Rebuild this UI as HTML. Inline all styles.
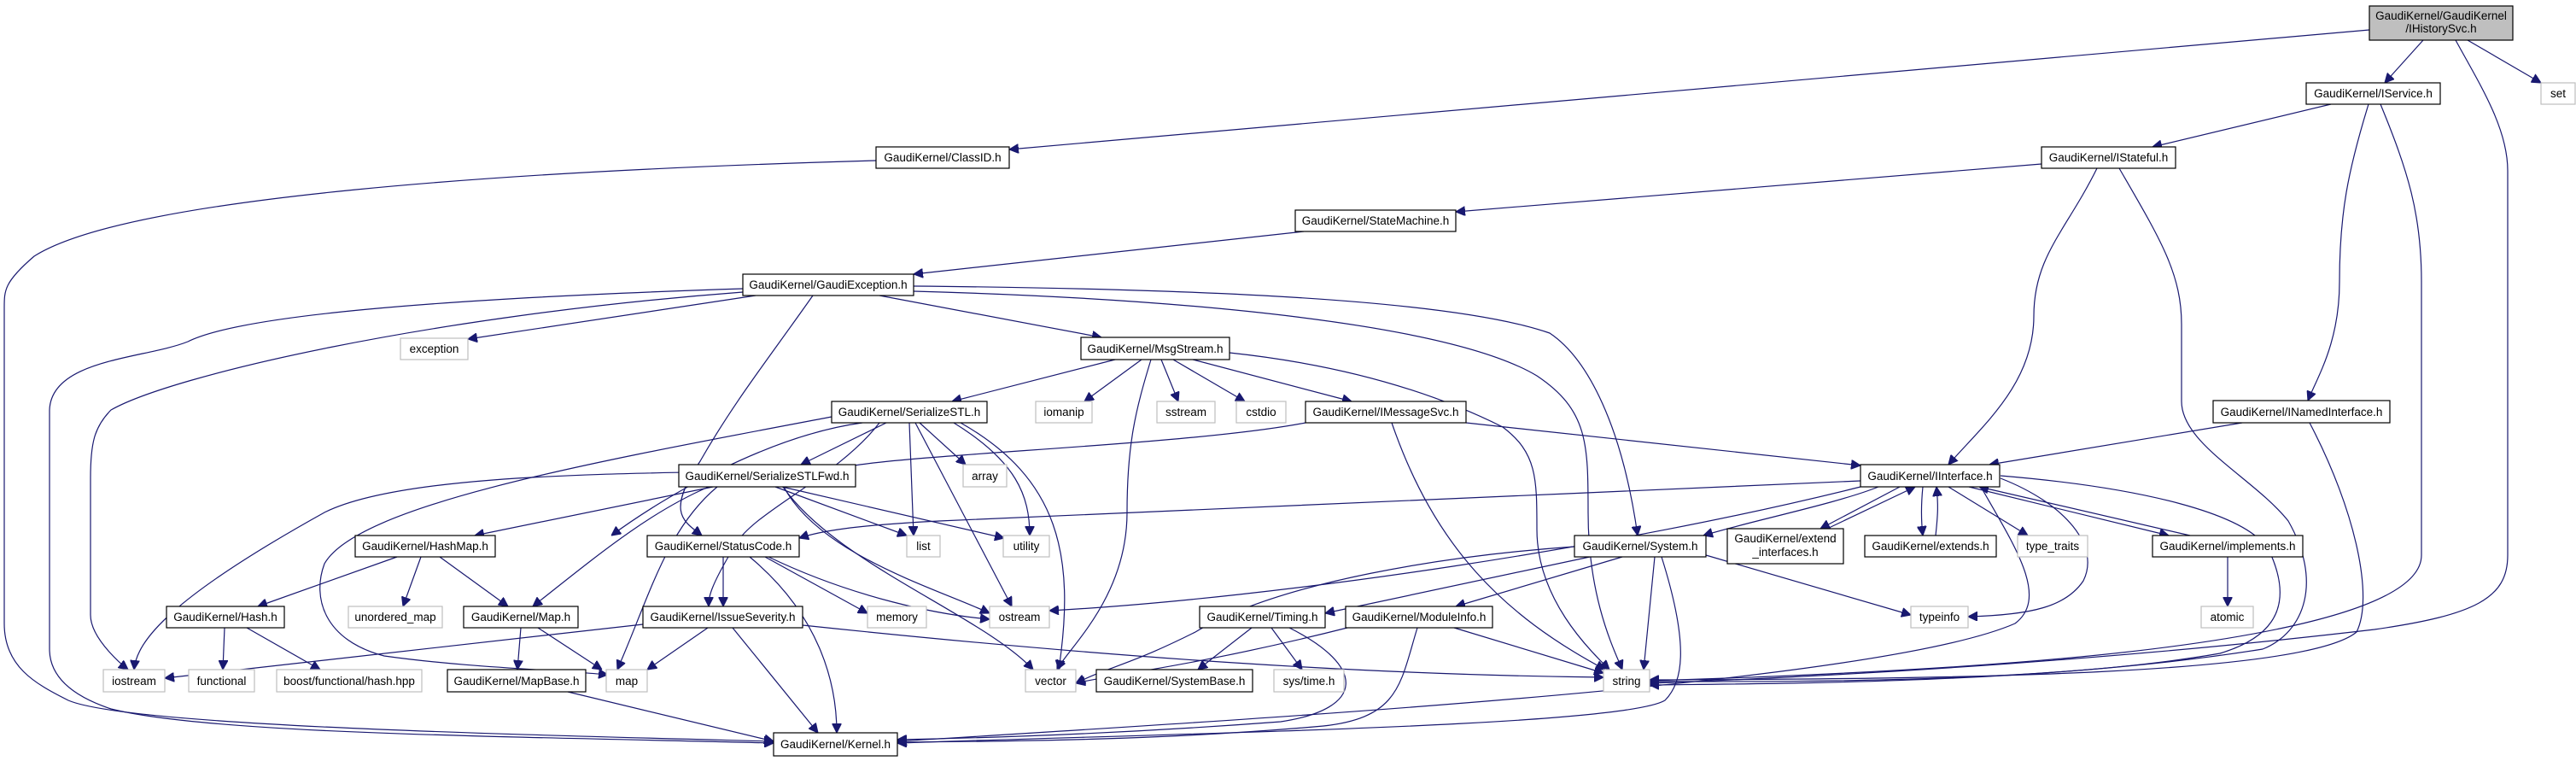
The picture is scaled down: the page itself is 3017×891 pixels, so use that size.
<!DOCTYPE html>
<html><head><meta charset="utf-8"><style>
html,body{margin:0;padding:0;background:#fff;}
svg{display:block;}
text{font-family:"Liberation Sans",sans-serif;font-size:13.5px;fill:#000;text-anchor:middle;}
.n{fill:#fff;stroke:#000;stroke-width:1.2;}
.g{fill:#fff;stroke:#bfbfbf;stroke-width:1.2;}
.e{fill:none;stroke:#191970;stroke-width:1.2;}
</style></head><body>
<svg width="3017" height="891" viewBox="0 0 3017 891" xmlns="http://www.w3.org/2000/svg">
<defs><marker id="a" viewBox="0 0 10 10" refX="10" refY="5" markerWidth="11" markerHeight="11" markerUnits="userSpaceOnUse" orient="auto"><path d="M0,0 L10,5 L0,10 z" fill="#191970" stroke="#191970"/></marker></defs>
<g class="e" marker-end="url(#a)">
<path d="M2775,35 L1182,175"/>
<path d="M2838,47 L2793,97"/>
<path d="M2890,47 L2976,97"/>
<path d="M2876,47 C2905,100 2937,150 2937,200 L2937,650 C2937,700 2900,720 2781,737 C2500,770 2200,790 1932,800"/>
<path d="M1026,188 C600,200 150,230 40,300 C5,330 5,340 5,360 L5,730 C5,780 40,800 80,820 C150,850 600,860 906,868"/>
<path d="M2730,122 L2521,172"/>
<path d="M2774,122 C2750,200 2740,250 2740,330 C2740,400 2715,440 2703,469"/>
<path d="M2788,122 C2820,200 2836,250 2836,330 L2836,650 C2836,720 2600,760 2300,780 C2150,790 2000,795 1932,797"/>
<path d="M2391,192 L1705,248"/>
<path d="M2456,197 C2420,270 2382,300 2382,370 C2382,450 2320,500 2282,544"/>
<path d="M2482,197 C2530,280 2555,320 2555,380 L2555,470 C2555,520 2640,560 2680,610 C2720,680 2700,740 2650,760 C2400,800 2100,800 1932,802"/>
<path d="M1527,271 L1070,321"/>
<path d="M870,338 C500,350 280,370 220,400 C170,420 60,420 58,480 L58,760 C58,800 100,820 130,830 C250,860 600,862 906,870"/>
<path d="M870,342 C500,370 200,440 130,480 C110,500 106,520 106,560 L106,720 C106,750 150,784 150,784"/>
<path d="M885,346 L548,397"/>
<path d="M952,346 C900,420 860,470 820,540 C780,600 800,610 822,627"/>
<path d="M1030,346 L1290,395"/>
<path d="M1070,341 C1400,350 1700,380 1800,440 C1860,480 1860,520 1860,600 C1860,700 1890,760 1900,784"/>
<path d="M1070,335 C1400,338 1700,350 1815,390 C1860,420 1900,500 1918,627"/>
<path d="M1306,421 L1115,470"/>
<path d="M1337,421 L1270,470"/>
<path d="M1348,421 C1330,480 1320,520 1320,600 C1320,700 1250,760 1238,784"/>
<path d="M1360,421 L1380,470"/>
<path d="M1374,421 L1458,470"/>
<path d="M1397,421 L1583,470"/>
<path d="M1440,413 C1600,430 1700,470 1760,500 C1800,530 1800,560 1800,620 C1800,700 1860,760 1885,784"/>
<path d="M974,488 C700,540 420,590 380,660 C365,700 380,750 450,768 C550,782 650,784 712,790"/>
<path d="M1010,495 C900,510 780,580 716,627"/>
<path d="M1038,495 L938,544"/>
<path d="M1030,495 C980,560 880,600 860,640 C830,690 830,700 830,710"/>
<path d="M1065,495 L1070,627"/>
<path d="M1077,495 L1131,544"/>
<path d="M1117,495 C1190,540 1206,580 1206,627"/>
<path d="M1072,495 L1185,710"/>
<path d="M1125,495 C1240,560 1260,650 1240,784"/>
<path d="M835,570 L556,627"/>
<path d="M830,570 C760,600 700,650 624,710"/>
<path d="M840,570 C780,620 760,700 723,784"/>
<path d="M908,570 L1062,627"/>
<path d="M916,570 L1176,630"/>
<path d="M918,570 C960,650 1100,690 1159,718"/>
<path d="M917,570 C980,660 1150,720 1210,784"/>
<path d="M1529,495 C1400,520 1100,530 1000,545 C900,560 500,540 380,600 C200,700 160,750 157,784"/>
<path d="M1630,495 C1680,640 1760,720 1880,784"/>
<path d="M1717,495 L2179,545"/>
<path d="M465,652 L302,710"/>
<path d="M493,652 L472,710"/>
<path d="M515,652 L595,710"/>
<path d="M263,735 L261,784"/>
<path d="M289,735 L375,784"/>
<path d="M610,735 L606,784"/>
<path d="M630,735 L705,784"/>
<path d="M665,810 L906,868"/>
<path d="M847,652 L847,710"/>
<path d="M896,652 L1016,718"/>
<path d="M900,652 C1000,700 1100,720 1159,725"/>
<path d="M878,652 C960,720 980,800 980,858"/>
<path d="M753,731 L193,794"/>
<path d="M829,735 L758,784"/>
<path d="M858,735 L958,858"/>
<path d="M940,732 C1300,770 1600,790 1878,793"/>
<path d="M2179,563 C1800,580 1300,600 1100,610 C1000,615 960,622 936,630"/>
<path d="M2179,570 C1900,640 1500,700 1229,715"/>
<path d="M2200,570 C2150,590 2050,610 1995,627"/>
<path d="M2225,570 L2132,619"/>
<path d="M2252,570 C2250,590 2250,610 2252,627"/>
<path d="M2282,570 L2375,627"/>
<path d="M2306,570 L2540,627"/>
<path d="M2343,560 C2420,590 2460,640 2440,680 C2420,710 2380,720 2305,722"/>
<path d="M2343,557 C2500,570 2640,600 2660,650 C2690,720 2650,750 2600,765 C2400,800 2100,798 1932,798"/>
<path d="M2320,570 C2360,640 2400,700 2360,730 C2200,800 1500,840 1051,868"/>
<path d="M2140,619 L2243,570"/>
<path d="M2267,627 C2270,600 2270,590 2268,570"/>
<path d="M2565,627 L2318,570"/>
<path d="M2609,652 L2609,710"/>
<path d="M1844,640 C1700,650 1500,680 1400,740 C1320,780 1300,780 1260,800"/>
<path d="M1862,652 L1552,718"/>
<path d="M1900,652 L1705,710"/>
<path d="M1938,652 L1925,784"/>
<path d="M1946,652 C1980,760 1970,800 1950,820 C1900,850 1400,858 1051,870"/>
<path d="M1998,650 L2238,720"/>
<path d="M1466,735 L1403,784"/>
<path d="M1489,735 L1525,784"/>
<path d="M1510,735 C1600,780 1600,830 1500,845 C1300,860 1150,864 1051,866"/>
<path d="M1578,735 C1400,780 1300,790 1260,800"/>
<path d="M1703,735 L1878,788"/>
<path d="M1660,735 C1640,800 1640,840 1550,850 C1350,868 1150,868 1051,869"/>
<path d="M2626,495 L2330,544"/>
<path d="M2705,495 C2760,600 2780,700 2760,740 C2700,790 2300,795 1932,796"/>
</g>
<rect x="2775" y="7" width="168" height="40" fill="#bfbfbf" stroke="#000" stroke-width="1.2"/>
<text x="2859" y="23">GaudiKernel/GaudiKernel</text><text x="2859" y="38">/IHistorySvc.h</text>
<rect class="n" x="2701" y="97" width="157" height="25"/><text x="2779.5" y="114">GaudiKernel/IService.h</text>
<rect class="g" x="2976" y="97" width="40" height="25"/><text x="2996" y="114">set</text>
<rect class="n" x="1026" y="172" width="156" height="25"/><text x="1104" y="189">GaudiKernel/ClassID.h</text>
<rect class="n" x="2391" y="172" width="157" height="25"/><text x="2469.5" y="189">GaudiKernel/IStateful.h</text>
<rect class="n" x="1517" y="246" width="188" height="25"/><text x="1611" y="263">GaudiKernel/StateMachine.h</text>
<rect class="n" x="870" y="321" width="200" height="25"/><text x="970" y="338">GaudiKernel/GaudiException.h</text>
<rect class="g" x="469" y="396" width="79" height="25"/><text x="508.5" y="413">exception</text>
<rect class="n" x="1266" y="395" width="174" height="26"/><text x="1353" y="413">GaudiKernel/MsgStream.h</text>
<rect class="n" x="974" y="470" width="182" height="25"/><text x="1065" y="487">GaudiKernel/SerializeSTL.h</text>
<rect class="g" x="1213" y="470" width="66" height="25"/><text x="1246" y="487">iomanip</text>
<rect class="g" x="1355" y="470" width="68" height="25"/><text x="1389" y="487">sstream</text>
<rect class="g" x="1448" y="470" width="58" height="25"/><text x="1477" y="487">cstdio</text>
<rect class="n" x="1529" y="470" width="188" height="25"/><text x="1623" y="487">GaudiKernel/IMessageSvc.h</text>
<rect class="n" x="2592" y="469" width="207" height="26"/><text x="2695.5" y="487">GaudiKernel/INamedInterface.h</text>
<rect class="n" x="795" y="544" width="207" height="26"/><text x="898.5" y="562">GaudiKernel/SerializeSTLFwd.h</text>
<rect class="g" x="1128" y="544" width="51" height="26"/><text x="1153.5" y="562">array</text>
<rect class="n" x="2179" y="544" width="163" height="26"/><text x="2260.5" y="562">GaudiKernel/IInterface.h</text>
<rect class="n" x="416" y="627" width="164" height="25"/><text x="498" y="644">GaudiKernel/HashMap.h</text>
<rect class="n" x="758" y="627" width="178" height="25"/><text x="847" y="644">GaudiKernel/StatusCode.h</text>
<rect class="g" x="1062" y="627" width="39" height="25"/><text x="1081.5" y="644">list</text>
<rect class="g" x="1175" y="627" width="54" height="25"/><text x="1202" y="644">utility</text>
<rect class="n" x="1844" y="627" width="154" height="25"/><text x="1921" y="644">GaudiKernel/System.h</text>
<rect class="n" x="2023" y="619" width="136" height="41"/><text x="2091" y="635">GaudiKernel/extend</text><text x="2091" y="651">_interfaces.h</text>
<rect class="n" x="2184" y="627" width="154" height="25"/><text x="2261" y="644">GaudiKernel/extends.h</text>
<rect class="g" x="2363" y="627" width="82" height="25"/><text x="2404" y="644">type_traits</text>
<rect class="n" x="2521" y="627" width="176" height="25"/><text x="2609" y="644">GaudiKernel/implements.h</text>
<rect class="n" x="195" y="710" width="138" height="25"/><text x="264" y="727">GaudiKernel/Hash.h</text>
<rect class="g" x="408" y="710" width="110" height="25"/><text x="463" y="727">unordered_map</text>
<rect class="n" x="543" y="710" width="134" height="25"/><text x="610" y="727">GaudiKernel/Map.h</text>
<rect class="n" x="753" y="710" width="187" height="25"/><text x="846.5" y="727">GaudiKernel/IssueSeverity.h</text>
<rect class="g" x="1016" y="710" width="69" height="25"/><text x="1050.5" y="727">memory</text>
<rect class="g" x="1159" y="710" width="70" height="25"/><text x="1194" y="727">ostream</text>
<rect class="n" x="1405" y="710" width="147" height="25"/><text x="1478.5" y="727">GaudiKernel/Timing.h</text>
<rect class="n" x="1576" y="710" width="172" height="25"/><text x="1662" y="727">GaudiKernel/ModuleInfo.h</text>
<rect class="g" x="2238" y="710" width="67" height="25"/><text x="2271.5" y="727">typeinfo</text>
<rect class="g" x="2578" y="710" width="61" height="25"/><text x="2608.5" y="727">atomic</text>
<rect class="g" x="121" y="784" width="72" height="26"/><text x="157" y="802">iostream</text>
<rect class="g" x="221" y="784" width="77" height="26"/><text x="259.5" y="802">functional</text>
<rect class="g" x="324" y="784" width="170" height="26"/><text x="409" y="802">boost/functional/hash.hpp</text>
<rect class="n" x="524" y="784" width="162" height="26"/><text x="605" y="802">GaudiKernel/MapBase.h</text>
<rect class="g" x="710" y="784" width="48" height="26"/><text x="734" y="802">map</text>
<rect class="g" x="1201" y="784" width="59" height="26"/><text x="1230.5" y="802">vector</text>
<rect class="n" x="1284" y="784" width="183" height="26"/><text x="1375.5" y="802">GaudiKernel/SystemBase.h</text>
<rect class="g" x="1492" y="784" width="82" height="26"/><text x="1533" y="802">sys/time.h</text>
<rect class="g" x="1878" y="784" width="54" height="26"/><text x="1905" y="802">string</text>
<rect class="n" x="906" y="858" width="145" height="27"/><text x="978.5" y="876">GaudiKernel/Kernel.h</text>
</svg>
</body></html>
